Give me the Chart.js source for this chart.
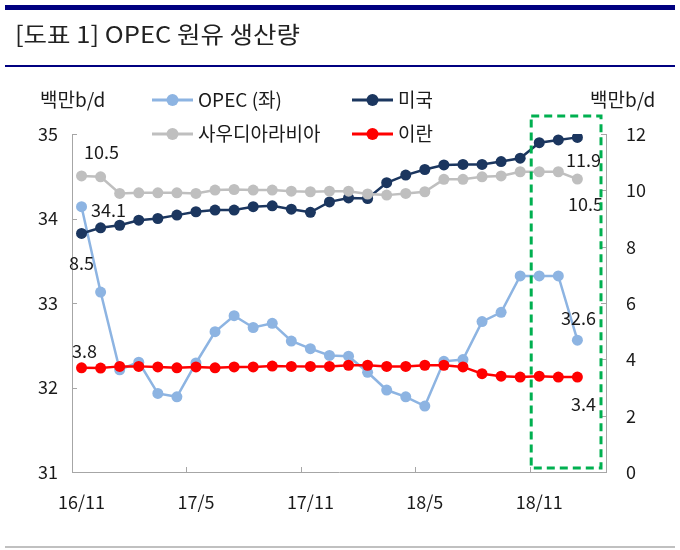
<!DOCTYPE html>
<html>
<head>
<meta charset="utf-8">
<script src="https://cdn.jsdelivr.net/npm/chart.js@4.4.1/dist/chart.umd.min.js"></script>
<style>
  html, body { margin: 0; padding: 0; background: #fff; }
  #wrap { width: 680px; height: 550px; }
</style>
</head>
<body>
<div id="wrap"><canvas id="opecChart" width="680" height="550"></canvas></div>
<script>
// months 16/11 .. 19/2 (last category left empty, as in the original)
var months = ['16/11','16/12','17/1','17/2','17/3','17/4','17/5','17/6','17/7','17/8','17/9','17/10',
              '17/11','17/12','18/1','18/2','18/3','18/4','18/5','18/6','18/7','18/8','18/9','18/10',
              '18/11','18/12','19/1','19/2'];
var shownTicks = ['16/11','17/5','17/11','18/5','18/11'];

// 백만b/d
var opec  = [34.14, 33.13, 32.21, 32.30, 31.93, 31.89, 32.29, 32.66, 32.85, 32.71, 32.76, 32.55, 32.46, 32.38,
             32.37, 32.18, 31.97, 31.89, 31.78, 32.31, 32.33, 32.78, 32.89, 33.32, 33.32, 33.32, 32.56];
var usa   = [8.47, 8.67, 8.76, 8.94, 9.00, 9.12, 9.24, 9.30, 9.30, 9.42, 9.45, 9.33, 9.22, 9.59,
             9.73, 9.71, 10.27, 10.54, 10.74, 10.90, 10.92, 10.92, 11.02, 11.14, 11.69, 11.79, 11.88];
var saudi = [10.51, 10.48, 9.89, 9.91, 9.91, 9.91, 9.89, 10.01, 10.03, 10.01, 10.01, 9.97, 9.95, 9.97,
             9.97, 9.87, 9.83, 9.89, 9.95, 10.39, 10.39, 10.48, 10.51, 10.66, 10.66, 10.66, 10.40];
var iran  = [3.70, 3.69, 3.75, 3.75, 3.73, 3.70, 3.73, 3.70, 3.73, 3.73, 3.76, 3.75, 3.75, 3.75,
             3.79, 3.79, 3.75, 3.75, 3.79, 3.79, 3.73, 3.49, 3.40, 3.37, 3.40, 3.37, 3.37];

// value call-outs at first / last point (dataset order: OPEC, 미국, 사우디, 이란)
var firstLabels = ['34.1', '8.5', '10.5', '3.8'];
var lastLabels  = ['32.6', '11.9', '10.5', '3.4'];

var FONT = '"Noto Sans CJK KR", "Noto Sans", sans-serif';
var TXT = '#1a1a1a';

var decor = {
    id: 'decor',
    beforeDraw: function(chart) {
        var c = chart.ctx;
        c.save();
        c.fillStyle = '#fff';
        c.fillRect(0, 0, chart.width, chart.height);
        // header rules
        c.fillStyle = '#000080';
        c.fillRect(5, 5, 670, 5);
        c.fillRect(5, 65, 670, 2);
        c.fillStyle = '#c0c0c0';
        c.fillRect(5, 546, 670, 2);
        // title (narrow gothic look)
        c.font = '23px ' + FONT;
        c.fillStyle = '#222';
        c.textBaseline = 'middle';
        var t = '[도표 1] OPEC 원유 생산량';
        var w = c.measureText(t).width;
        c.translate(15, 34);
        c.scale(285 / w, 1);
        c.fillText(t, 0, 0);
        c.restore();
    },
    afterDatasetsDraw: function(chart) {
        var c = chart.ctx;
        var a = chart.chartArea;
        var x = chart.scales.x, yl = chart.scales.y, yr = chart.scales.y1;
        c.save();
        // inner tick marks
        c.strokeStyle = '#a6a6a6';
        c.lineWidth = 1;
        c.beginPath();
        var step = (a.right - a.left) / months.length;
        for (var k = 6; k < months.length; k += 6) {
            var px = Math.round(a.left + k * step) + 0.5;
            c.moveTo(px, a.bottom); c.lineTo(px, a.bottom - 5);
        }
        yl.ticks.forEach(function(t) {
            var py = Math.round(yl.getPixelForValue(t.value)) + 0.5;
            c.moveTo(a.left, py); c.lineTo(a.left + 5, py);
        });
        yr.ticks.forEach(function(t) {
            var py = Math.round(yr.getPixelForValue(t.value)) + 0.5;
            c.moveTo(a.right, py); c.lineTo(a.right - 5, py);
        });
        c.stroke();

        // value call-outs
        c.font = '18px ' + FONT;
        c.fillStyle = TXT;
        c.textAlign = 'center';
        c.textBaseline = 'middle';
        var firstOff = [[27, 3], [0, 30], [20, -24], [3, -17]];
        var lastOff  = [[1, -22], [6, 23], [8, 25], [6, 27]];
        for (var d = 0; d < 4; d++) {
            var pts = chart.getDatasetMeta(d).data;
            var p0 = pts[0], p1 = pts[pts.length - 1];
            c.fillText(firstLabels[d], p0.x + firstOff[d][0], p0.y + firstOff[d][1]);
            c.fillText(lastLabels[d], p1.x + lastOff[d][0], p1.y + lastOff[d][1]);
        }

        // green dashed highlight box around the latest months
        var bx0 = x.getPixelForValue(24) - step / 2 + 1.5;
        c.strokeStyle = '#00b050';
        c.lineWidth = 3;
        c.setLineDash([8, 5]);
        c.strokeRect(bx0, a.top - 18, a.right - 5 - bx0, a.bottom - 4 - (a.top - 18));
        c.setLineDash([]);

        // units
        c.font = '19px ' + FONT;
        c.textAlign = 'left';
        c.fillText('백만b/d', 40, 100);
        c.fillText('백만b/d', 590, 100);

        // legend
        var items = [
            [chart.data.datasets[0], 152, 100],
            [chart.data.datasets[1], 352, 100],
            [chart.data.datasets[2], 152, 134],
            [chart.data.datasets[3], 352, 134]
        ];
        items.forEach(function(it) {
            var ds = it[0], lx = it[1], ly = it[2];
            c.strokeStyle = ds.borderColor;
            c.lineWidth = 3;
            c.beginPath();
            c.moveTo(lx, ly); c.lineTo(lx + 41, ly);
            c.stroke();
            c.fillStyle = ds.backgroundColor;
            c.beginPath();
            c.arc(lx + 20.5, ly, 6, 0, Math.PI * 2);
            c.fill();
            c.fillStyle = TXT;
            c.fillText(ds.label, lx + 46, ly);
        });
        c.restore();
    }
};

function series(label, data, color, axis, order) {
    return {
        label: label,
        data: data,
        yAxisID: axis,
        borderColor: color,
        backgroundColor: color,
        borderWidth: 2.5,
        pointRadius: 5.5,
        pointBorderWidth: 0,
        pointBackgroundColor: color,
        tension: 0,
        order: order
    };
}

var ctx = document.getElementById('opecChart').getContext('2d');
var chart = new Chart(ctx, {
    type: 'line',
    data: {
        labels: months,
        datasets: [
            series('OPEC (좌)', opec, '#8db4e2', 'y', 4),
            series('미국', usa, '#1b365f', 'y1', 3),
            series('사우디아라비아', saudi, '#bfbfbf', 'y1', 2),
            series('이란', iran, '#ff0000', 'y1', 1)
        ]
    },
    options: {
        responsive: false,
        animation: false,
        layout: { padding: { top: 134, left: 0, right: 0, bottom: 0 } },
        scales: {
            x: {
                offset: true,
                grid: { display: false, drawTicks: false },
                border: { color: '#a6a6a6', width: 1 },
                ticks: {
                    autoSkip: false,
                    maxRotation: 0,
                    padding: 19,
                    color: TXT,
                    font: { family: FONT, size: 18 },
                    callback: function(v, i) {
                        var l = months[i];
                        return shownTicks.indexOf(l) >= 0 ? l : '';
                    }
                },
                afterFit: function(s) { s.height = 78; }
            },
            y: {
                position: 'left',
                min: 31, max: 35,
                grid: { display: false, drawTicks: false },
                border: { color: '#a6a6a6', width: 1 },
                ticks: { stepSize: 1, padding: 14, color: TXT, font: { family: FONT, size: 18 } },
                afterFit: function(s) { s.width = 72; }
            },
            y1: {
                position: 'right',
                min: 0, max: 12,
                grid: { display: false, drawTicks: false },
                border: { color: '#a6a6a6', width: 1 },
                ticks: { stepSize: 2, padding: 20, color: TXT, font: { family: FONT, size: 18 } },
                afterFit: function(s) { s.width = 74; }
            }
        },
        plugins: {
            legend: { display: false },
            title: { display: false },
            tooltip: { enabled: false }
        }
    },
    plugins: [decor]
});
</script>
</body>
</html>
